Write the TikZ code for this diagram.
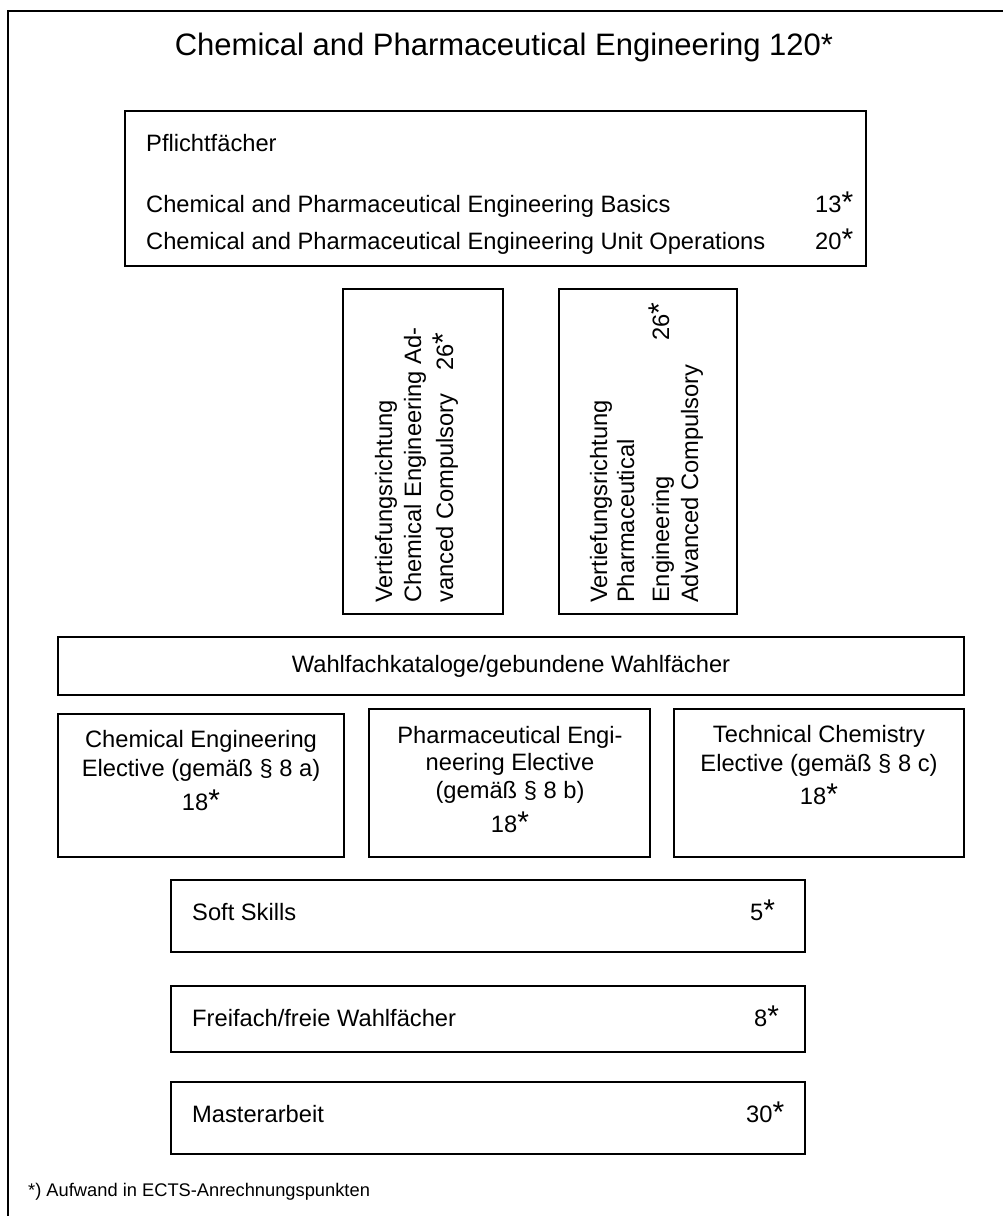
\documentclass[tikz,border=0pt]{standalone}
\usepackage{fontspec}
\setmainfont{Liberation Sans}
\usetikzlibrary{fit}
\newcommand\supast{\raisebox{0pt}{\fontsize{30}{30}\selectfont *}}
\begin{document}
\begin{tikzpicture}[x=1pt,y=-1pt,
  box/.style={draw, line width=2pt, inner sep=0pt},
  txt/.style={inner sep=0pt, anchor=base west, font=\fontsize{23.7}{28}\selectfont},
  ctxt/.style={inner sep=0pt, anchor=base, font=\fontsize{23.7}{28}\selectfont},
  vtxt/.style={txt, rotate=90},
]
\useasboundingbox (0,0) rectangle (1003,1216);
% outer frame
\coordinate (frTR) at (1003,11);
\coordinate (frTL) at (8,11);
\coordinate (frBL) at (8,1216);
\draw[line width=2pt] (frTR) -- (frTL) -- (frBL);
% title
\node[inner sep=0pt, anchor=base, font=\fontsize{31}{36}\selectfont] (title) at (504,55) {Chemical and Pharmaceutical Engineering 120*};
% Pflichtfaecher
\node[box, fit={(125,111) (866,266)}] (pf) {};
\node[txt] (pf1) at (146,151) {Pflichtfächer};
\node[txt] (pf2) at (146,212) {Chemical and Pharmaceutical Engineering Basics};
\node[txt] (pf2n) at (815,212) {13\supast};
\node[txt] (pf3) at (146,249) {Chemical and Pharmaceutical Engineering Unit Operations};
\node[txt] (pf3n) at (815,249) {20\supast};
% vertical boxes
\node[box, fit={(343,289) (503,614)}] (v1) {};
\node[vtxt] (v1a) at (392,603) {Vertiefungsrichtung};
\node[vtxt] (v1b) at (421,603) {Chemical Engineering Ad-};
\node[vtxt] (v1c) at (453,603) {vanced Compulsory};
\node[vtxt] (v1n) at (453,371) {26\supast};
\node[box, fit={(559,289) (737,614)}] (v2) {};
\node[vtxt] (v2a) at (607,603) {Vertiefungsrichtung};
\node[vtxt] (v2b) at (634,603) {Pharmaceutical};
\node[vtxt] (v2c) at (669,603) {Engineering};
\node[vtxt] (v2d) at (698,603) {Advanced Compulsory};
\node[vtxt] (v2n) at (669,341) {26\supast};
% Wahlfachkataloge
\node[box, fit={(58,637) (964,695)}] (wk) {};
\node[ctxt] (wkt) at (511,672) {Wahlfachkataloge/gebundene Wahlfächer};
% electives
\node[box, fit={(58,714) (344,857)}] (ea) {};
\node[ctxt] (ea1) at (201,747) {Chemical Engineering};
\node[ctxt] (ea2) at (201,776) {Elective (gemäß § 8 a)};
\node[ctxt] (ea3) at (201,810) {18\supast};
\node[box, fit={(369,709) (650,857)}] (eb) {};
\node[ctxt] (eb1) at (510,743) {Pharmaceutical Engi-};
\node[ctxt] (eb2) at (510,770) {neering Elective};
\node[ctxt] (eb3) at (510,798) {(gemäß § 8 b)};
\node[ctxt] (eb4) at (510,832) {18\supast};
\node[box, fit={(674,709) (964,857)}] (ec) {};
\node[ctxt] (ec1) at (819,742) {Technical Chemistry};
\node[ctxt] (ec2) at (819,771) {Elective (gemäß § 8 c)};
\node[ctxt] (ec3) at (819,804) {18\supast};
% bottom boxes
\node[box, fit={(171,880) (805,952)}] (ss) {};
\node[txt] (ss1) at (192,920) {Soft Skills};
\node[txt] (ss2) at (750,920) {5\supast};
\node[box, fit={(171,986) (805,1052)}] (ff) {};
\node[txt] (ff1) at (192,1026) {Freifach/freie Wahlfächer};
\node[txt] (ff2) at (754,1026) {8\supast};
\node[box, fit={(171,1082) (805,1154)}] (ma) {};
\node[txt] (ma1) at (192,1122) {Masterarbeit};
\node[txt] (ma2) at (746,1122) {30\supast};
% footnote
\node[inner sep=0pt, anchor=base west, font=\fontsize{18.3}{22}\selectfont] (fn) at (28,1196) {*) Aufwand in ECTS-Anrechnungspunkten};
\end{tikzpicture}
\end{document}
